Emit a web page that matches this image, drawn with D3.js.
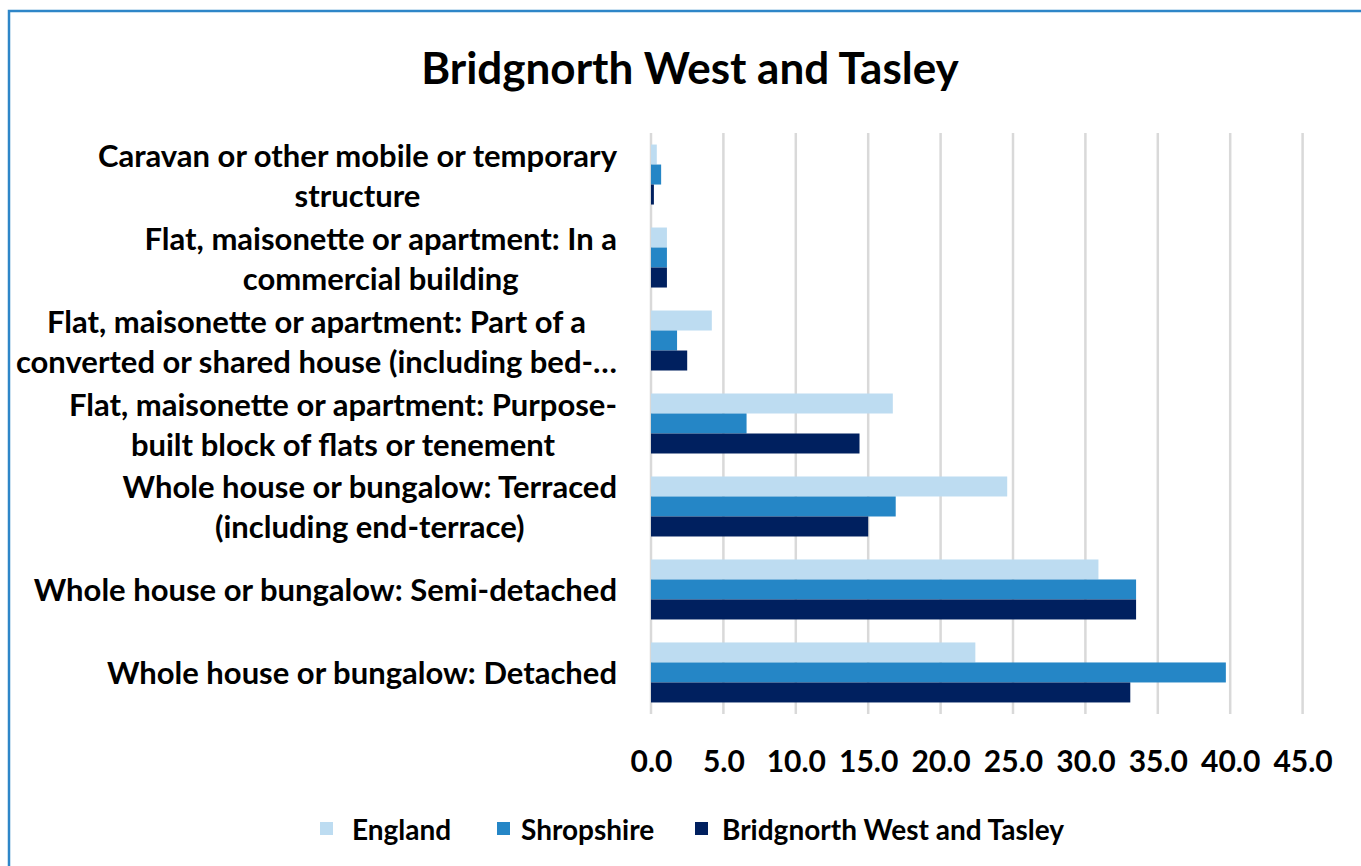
<!DOCTYPE html>
<html>
<head>
<meta charset="utf-8">
<script src="https://cdn.jsdelivr.net/npm/d3@7"></script>
<style>
  body { margin: 0; background: #fff; }
  svg { display: block; font-family: Lato, "Open Sans", sans-serif; font-weight: bold; }
</style>
</head>
<body>
<svg id="chart" width="1361" height="866"></svg>
<script>
// categories, top to bottom, with the line breaks seen in the chart
const categories = [
  "Caravan or other mobile or temporary structure",
  "Flat, maisonette or apartment: In a commercial building",
  "Flat, maisonette or apartment: Part of a converted or shared house (including bed-sits)",
  "Flat, maisonette or apartment: Purpose-built block of flats or tenement",
  "Whole house or bungalow: Terraced (including end-terrace)",
  "Whole house or bungalow: Semi-detached",
  "Whole house or bungalow: Detached"
]
const categoryLines = [
  ["Caravan or other mobile or temporary", "structure"],
  ["Flat, maisonette or apartment: In a", "commercial building"],
  ["Flat, maisonette or apartment: Part of a", "converted or shared house (including bed-…"],
  ["Flat, maisonette or apartment: Purpose-", "built block of flats or tenement"],
  ["Whole house or bungalow: Terraced", "(including end-terrace)"],
  ["Whole house or bungalow: Semi-detached"],
  ["Whole house or bungalow: Detached"]
]
const seriesNames = ["England", "Shropshire", "Bridgnorth West and Tasley"]
const england = [0.4, 1.1, 4.2, 16.7, 24.6, 30.9, 22.4]
const shropshire = [0.7, 1.1, 1.8, 6.6, 16.9, 33.5, 39.7]
const bridgnorth = [0.2, 1.1, 2.5, 14.4, 15.0, 33.5, 33.1]
const xTicks = [0, 5, 10, 15, 20, 25, 30, 35, 40, 45]
const colors = ["#bddcf1", "#2586c6", "#00205f"]

const svg = d3.select("#chart")
const values = [england, shropshire, bridgnorth]

// outer frame (only top and left edges fall inside the picture)
svg.append("path")
  .attr("d", "M9,866 V11 H1361")
  .attr("fill", "none")
  .attr("stroke", "#2e86c8")
  .attr("stroke-width", 2.5)

svg.append("text")
  .attr("x", 690)
  .attr("y", 84)
  .attr("text-anchor", "middle")
  .attr("font-size", 44)
  .text("Bridgnorth West and Tasley")

const x = d3.scaleLinear().domain([0, 45]).range([651, 1302.6])
const y = d3.scaleBand().domain(categories).range([133, 714]).paddingInner(0.277).paddingOuter(0.139)
const ySub = d3.scaleBand().domain(seriesNames).range([0, y.bandwidth()])

// gridlines
svg.append("g")
  .selectAll("line")
  .data(xTicks)
  .join("line")
  .attr("x1", d => x(d))
  .attr("x2", d => x(d))
  .attr("y1", 133)
  .attr("y2", 714)
  .attr("stroke", "#d9d9d9")
  .attr("stroke-width", 2.5)

// bars
const rows = categories.map((c, i) => ({ c, vals: seriesNames.map((s, j) => ({ s, v: values[j][i], j })) }))
svg.append("g")
  .selectAll("g")
  .data(rows)
  .join("g")
  .attr("transform", d => `translate(0,${y(d.c)})`)
  .selectAll("rect")
  .data(d => d.vals)
  .join("rect")
  .attr("x", x(0))
  .attr("y", d => ySub(d.s))
  .attr("width", d => x(d.v) - x(0))
  .attr("height", ySub.bandwidth())
  .attr("fill", d => colors[d.j])

// x axis tick labels
const xAxis = svg.append("g")
  .attr("transform", "translate(0,748)")
  .call(d3.axisBottom(x).tickValues(xTicks).tickFormat(d3.format(".1f")).tickSize(0))
xAxis.select(".domain").remove()
xAxis.selectAll("text")
  .attr("font-size", 30)
  .attr("font-family", "Lato, sans-serif")
  .attr("font-weight", "bold")
  .attr("fill", "#000")

// category labels, lines centred on each other, block right edge at 617
const labelG = svg.append("g").attr("font-size", 31)
categories.forEach((c, i) => {
  const lines = categoryLines[i]
  const t = labelG.append("text").attr("text-anchor", "middle").attr("fill", "#000")
  const cy = y(c) + y.bandwidth() / 2
  const lh = 40
  lines.forEach((ln, k) => {
    t.append("tspan")
      .attr("y", cy + (k - (lines.length - 1) / 2) * lh + 12)
      .text(ln)
  })
  let maxW = 0
  t.selectAll("tspan").each(function () { maxW = Math.max(maxW, this.getComputedTextLength()) })
  t.selectAll("tspan").attr("x", 617 - maxW / 2)
})

// legend
const legendX = [320, 497, 695]
const legendTextX = [352, 521, 722]
const legend = svg.append("g")
  .selectAll("g")
  .data(seriesNames)
  .join("g")
legend.append("rect")
  .attr("x", (d, i) => legendX[i])
  .attr("y", 822)
  .attr("width", 13)
  .attr("height", 13)
  .attr("fill", (d, i) => colors[i])
legend.append("text")
  .attr("x", (d, i) => legendTextX[i])
  .attr("y", 840)
  .attr("font-size", 28)
  .text(d => d)
</script>
</body>
</html>
